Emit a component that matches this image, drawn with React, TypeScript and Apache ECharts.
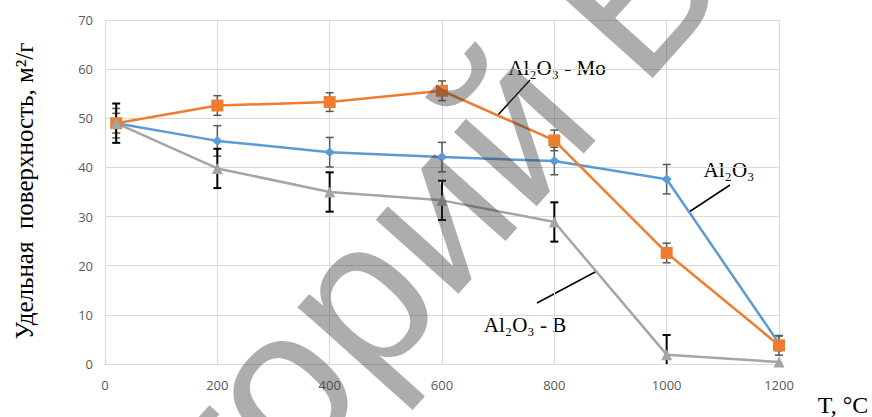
import React, { useEffect, useRef } from "react";
import * as echarts from "echarts";

const temperatures = [20, 200, 400, 600, 800, 1000, 1200];
const xTicks = [0, 200, 400, 600, 800, 1000, 1200];
const yTicks = [0, 10, 20, 30, 40, 50, 60, 70];

const al2o3 = [49, 45.4, 43.1, 42.1, 41.3, 37.6, 4.2];
const al2o3Err = [3, 3.1, 3, 3, 2.8, 3, 1.5];
const al2o3Mo = [49, 52.6, 53.3, 55.6, 45.5, 22.6, 3.8];
const al2o3MoErr = [2, 2, 1.9, 2, 2.1, 2, 2];
const al2o3B = [49, 39.8, 35, 33.3, 28.9, 1.9, 0.4];
const al2o3BErr = [4, 4, 4, 4, 4, 4, 0];

const BLUE = "#5B9BD5";
const ORANGE = "#ED7D31";
const GRAY = "#A5A5A5";

function pairs(vals: number[]) {
  return temperatures.map((t, i) => [t, vals[i]]);
}
function errTriples(vals: number[], errs: number[]) {
  return temperatures.map((t, i) => [t, vals[i], errs[i]]);
}

function errorSeries(vals: number[], errs: number[], color: string, width: number, z: number) {
  return {
    type: "custom",
    z,
    clip: false,
    silent: true,
    encode: { x: 0, y: 1 },
    data: errTriples(vals, errs),
    renderItem: (params: any, api: any) => {
      const x = api.value(0);
      const y = api.value(1);
      const e = api.value(2);
      if (!e) return null;
      const lo = Math.max(0, y - e);
      const top = api.coord([x, y + e]);
      const bot = api.coord([x, lo]);
      const cap = 4;
      const style = { stroke: color, lineWidth: width };
      const children: any[] = [
        { type: "line", shape: { x1: top[0], y1: top[1], x2: bot[0], y2: bot[1] }, style },
        { type: "line", shape: { x1: top[0] - cap, y1: top[1], x2: top[0] + cap, y2: top[1] }, style },
      ];
      if (y - e >= 0) {
        children.push({ type: "line", shape: { x1: bot[0] - cap, y1: bot[1], x2: bot[0] + cap, y2: bot[1] }, style });
      }
      return { type: "group", children };
    },
  };
}

export default function App() {
  const ref = useRef<HTMLDivElement>(null);
  useEffect(() => {
    if (!ref.current) return;
    const chart = echarts.init(ref.current, null, { renderer: "svg" });
    const serif = '"Liberation Serif", "Times New Roman", serif';
    const wmFill = "rgba(60,60,60,0.42)";
    const wmAngle = 0.84;
    const wmFont = '210px "Liberation Sans", sans-serif';
    chart.setOption({
      animation: false,
      backgroundColor: "#ffffff",
      grid: { left: 105, right: 93, top: 20, bottom: 53, containLabel: false },
      xAxis: {
        type: "value",
        min: 0,
        max: 1200,
        interval: 200,
        axisLine: { show: true, lineStyle: { color: "#D9D9D9", width: 1 } },
        axisTick: { show: false },
        splitLine: { show: true, lineStyle: { color: "#D9D9D9", width: 1 } },
        axisLabel: {
          color: "#595959",
          fontSize: 13,
          fontFamily: '"Open Sans", sans-serif',
          margin: 14,
          formatter: (v: number) => (xTicks.includes(v) ? String(v) : ""),
        },
      },
      yAxis: {
        type: "value",
        min: 0,
        max: 70,
        interval: 10,
        axisLine: { show: false },
        axisTick: { show: false },
        splitLine: { show: true, lineStyle: { color: "#D9D9D9", width: 1 } },
        axisLabel: {
          color: "#595959",
          fontSize: 13,
          fontFamily: '"Open Sans", sans-serif',
          margin: 12,
          formatter: (v: number) => (yTicks.includes(v) ? String(v) : ""),
        },
      },
      series: [
        errorSeries(al2o3, al2o3Err, "#595959", 1.5, 1),
        errorSeries(al2o3Mo, al2o3MoErr, "#595959", 1.5, 1),
        errorSeries(al2o3B, al2o3BErr, "#000000", 2, 1),
        {
          type: "line",
          name: "Al2O3",
          data: pairs(al2o3),
          z: 3,
          lineStyle: { color: BLUE, width: 2.5 },
          itemStyle: { color: BLUE },
          symbol: "diamond",
          symbolSize: 10,
          showAllSymbol: true,
        },
        {
          type: "line",
          name: "Al2O3 - Mo",
          data: pairs(al2o3Mo),
          z: 3,
          lineStyle: { color: ORANGE, width: 2.5 },
          itemStyle: { color: ORANGE },
          symbol: "rect",
          symbolSize: 12,
          showAllSymbol: true,
        },
        {
          type: "line",
          name: "Al2O3 - B",
          data: pairs(al2o3B),
          z: 3,
          lineStyle: { color: GRAY, width: 2.5 },
          itemStyle: { color: GRAY },
          symbol: "triangle",
          symbolSize: 11,
          showAllSymbol: true,
        },
      ],
      graphic: [
        {
          type: "text",
          x: 24,
          y: 191,
          rotation: Math.PI / 2,
          style: {
            text: "Удельная  поверхность, м²/г",
            font: `25px ${serif}`,
            fill: "#000000",
            textAlign: "center",
            textVerticalAlign: "middle",
          },
        },
        {
          type: "text",
          x: 843,
          y: 405,
          style: {
            text: "T, °C",
            font: `24px ${serif}`,
            fill: "#000000",
            textAlign: "center",
            textVerticalAlign: "middle",
          },
        },
        {
          type: "text",
          x: 557,
          y: 68,
          style: { text: "Al₂O₃ - Mo", font: `21px ${serif}`, fill: "#000000", textAlign: "center", textVerticalAlign: "middle" },
        },
        { type: "line", shape: { x1: 530, y1: 80, x2: 497, y2: 116 }, style: { stroke: "#000", lineWidth: 1.5 } },
        {
          type: "text",
          x: 729,
          y: 170,
          style: { text: "Al₂O₃", font: `21px ${serif}`, fill: "#000000", textAlign: "center", textVerticalAlign: "middle" },
        },
        { type: "line", shape: { x1: 730, y1: 185, x2: 689, y2: 212 }, style: { stroke: "#000", lineWidth: 1.5 } },
        {
          type: "text",
          x: 525,
          y: 325,
          style: { text: "Al₂O₃ - B", font: `21px ${serif}`, fill: "#000000", textAlign: "center", textVerticalAlign: "middle" },
        },
        { type: "line", shape: { x1: 537, y1: 303, x2: 597, y2: 271 }, style: { stroke: "#000", lineWidth: 1.5 } },
        {
          type: "text",
          x: 629,
          y: 151,
          rotation: wmAngle,
          z: 100,
          silent: true,
          style: { text: "Репозиторий", font: wmFont, fill: wmFill, textAlign: "right", textVerticalAlign: "bottom" },
        },
        {
          type: "text",
          x: 665,
          y: 112,
          rotation: wmAngle,
          z: 100,
          silent: true,
          style: { text: "БГТУ", font: wmFont, fill: wmFill, textAlign: "left", textVerticalAlign: "bottom" },
        },
      ],
    });
    return () => chart.dispose();
  }, []);
  return <div ref={ref} style={{ width: 872, height: 417, position: "absolute", left: 0, top: 0 }} />;
}
